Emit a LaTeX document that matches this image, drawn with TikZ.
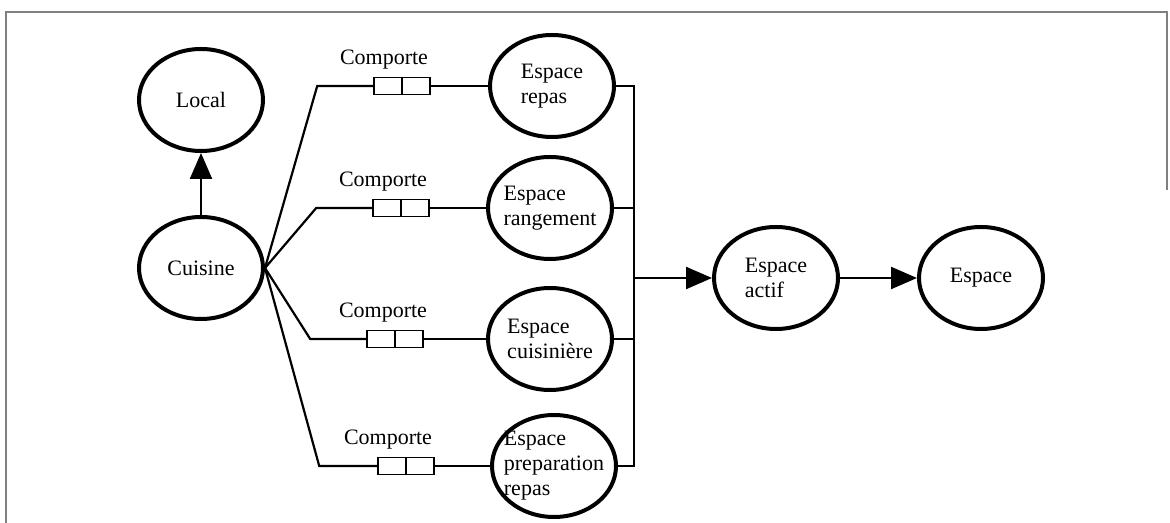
\documentclass[tikz,border=0pt]{standalone}
\usepackage{fontspec}
\setmainfont{Liberation Serif}
\usetikzlibrary{shapes.geometric, shapes.multipart, arrows.meta}

\begin{document}
\begin{tikzpicture}[node distance=84pt, font=\fontsize{11}{12.5}\selectfont,
    ent/.style={draw, ellipse, line width=2pt, minimum width=62pt, minimum height=51pt, inner sep=-6pt, align=left},
    rel/.style={draw, line width=0.8pt, rectangle split, rectangle split horizontal, rectangle split parts=2,
        rectangle split empty part width=9pt, rectangle split empty part height=8.5pt,
        rectangle split empty part depth=0pt, inner sep=0pt},
    lien/.style={line width=1.1pt},
    fleche/.style={line width=1.1pt, -{Triangle[length=13pt, width=11pt]}}]
    \useasboundingbox (-100.5pt,134pt) rectangle (484.5pt,-127.5pt);
    % cadre
    \draw[line width=0.6pt, gray] (483pt,39pt) -- (483pt,128pt) -- (-97.5pt,128pt) -- (-97.5pt,-127.5pt);

    \node[ent] (cuisine) {Cuisine};
    \node[ent, above of=cuisine] (local) {Local};
    \node[ent, node distance=175.5pt, right of=cuisine, yshift=91pt] (repas) {Espace\\repas};
    \node[ent, node distance=174.5pt, right of=cuisine, yshift=30pt] (rangement) {Espace\\rangement};
    \node[ent, node distance=174.5pt, right of=cuisine, yshift=-35.5pt] (cuisiniere) {Espace\\cuisinière};
    \node[ent, node distance=176.5pt, right of=cuisine, yshift=-99pt] (prep) {Espace\\preparation\\repas};
    \node[ent, node distance=287.5pt, right of=cuisine, yshift=-5pt] (actif) {Espace\\actif};
    \node[ent, node distance=102.5pt, right of=actif] (espace) {Espace};

    % relations
    \node[rel, node distance=75pt, left of=repas, label={[xshift=-9pt, label distance=0pt]above:Comporte}] (crepas) {};
    \node[rel, node distance=74.5pt, left of=rangement, label={[xshift=-9pt, label distance=0pt]above:Comporte}] (crangement) {};
    \node[rel, node distance=77.5pt, left of=cuisiniere, label={[xshift=-6pt, label distance=0pt]above:Comporte}] (ccuisiniere) {};
    \node[rel, node distance=74pt, left of=prep, label={[xshift=-9pt, label distance=0pt]above:Comporte}] (cprep) {};

    \draw[lien] (crepas.west) -- ++(-28pt,0) -- (cuisine.east);
    \draw[lien] (crangement.west) -- ++(-28pt,0) -- (cuisine.east);
    \draw[lien] (ccuisiniere.west) -- ++(-28pt,0) -- (cuisine.east);
    \draw[lien] (cprep.west) -- ++(-29pt,0) -- (cuisine.east);
    \draw[lien] (crepas.east) -- (repas);
    \draw[lien] (crangement.east) -- (rangement);
    \draw[lien] (ccuisiniere.east) -- (cuisiniere);
    \draw[lien] (cprep.east) -- (prep);

    % espaces vers espace actif
    \draw[lien] (repas.east) -- ++(9pt,0) coordinate (bus) -- (bus |- prep.east) -- (prep.east);
    \draw[lien] (rangement.east) -- (rangement.east -| bus);
    \draw[lien] (cuisiniere.east) -- (cuisiniere.east -| bus);
    \draw[fleche] (bus |- actif.west) -- (actif.west);
    \draw[fleche] (actif) -- (espace);
    \draw[fleche] (cuisine) -- (local);
\end{tikzpicture}
\end{document}
